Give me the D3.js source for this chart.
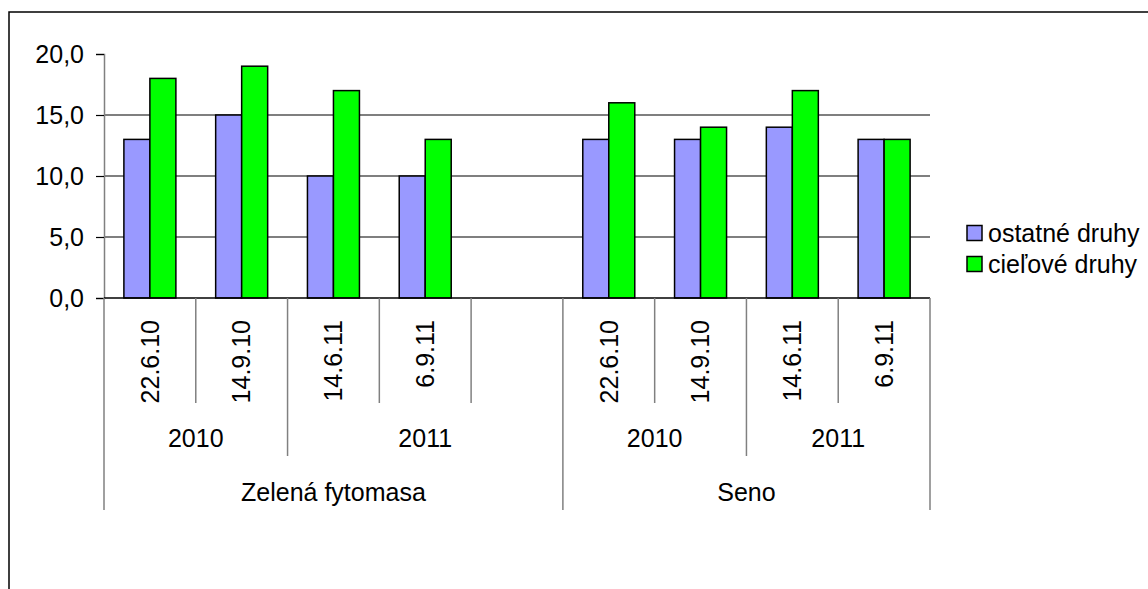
<!DOCTYPE html>
<html>
<head>
<meta charset="utf-8">
<script src="https://cdn.jsdelivr.net/npm/d3@7/dist/d3.min.js"></script>
<style>
  html, body { margin: 0; padding: 0; background: #fff; }
  text { font-family: "Liberation Sans", Arial, sans-serif; fill: #000; }
</style>
</head>
<body>
<svg id="chart" width="1148" height="589"></svg>
<script>
// ---- data ----
const groups = ["Zelená fytomasa", "Zelená fytomasa", "Zelená fytomasa", "Zelená fytomasa", "Seno", "Seno", "Seno", "Seno"];
const years = ["2010", "2010", "2011", "2011", "2010", "2010", "2011", "2011"];
const dates = ["22.6.10", "14.9.10", "14.6.11", "6.9.11", "22.6.10", "14.9.10", "14.6.11", "6.9.11"];
const ostatneDruhy = [13, 15, 10, 10, 13, 13, 14, 13];
const cieloveDruhy = [18, 19, 17, 13, 16, 14, 17, 13];
const seriesNames = ["ostatné druhy", "cieľové druhy"];
const yTicks = [0, 5, 10, 15, 20];

// ---- layout ----
const svg = d3.select("#chart");
const X0 = 104, X1 = 930, Y0 = 298, Ytop = 54;
const colors = ["#9999FF", "#00FF00"];
const fontSize = 25;

// outer frame (extends past the viewport on right/bottom)
svg.append("rect").attr("x", 9).attr("y", 12).attr("width", 1300).attr("height", 700)
  .attr("fill", "none").attr("stroke", "#000").attr("stroke-width", 1.5);

// build slots: data points plus one empty slot at end of the first group
const slots = [];
dates.forEach((d, i) => {
  slots.push({ id: "s" + i, i: i, date: d, year: years[i], group: groups[i] });
  if (i + 1 < dates.length && groups[i + 1] !== groups[i]) {
    slots.push({ id: "blank" + i, i: -1, date: "", year: years[i], group: groups[i] });
  }
});

const x = d3.scaleBand().domain(slots.map(s => s.id)).range([X0, X1]).padding(0);
const xs = d3.scaleBand().domain([0, 1]).range([0, x.bandwidth()]).paddingInner(0).paddingOuter(0.765);
const y = d3.scaleLinear().domain([0, 20]).range([Y0, Ytop]);

// gridlines
svg.append("g").selectAll("line").data(yTicks.filter(t => t > 0 && t < 20)).join("line")
  .attr("x1", X0).attr("x2", X1).attr("y1", d => y(d)).attr("y2", d => y(d))
  .attr("stroke", "#000").attr("stroke-width", 1.2);

// y axis
const yAxis = d3.axisLeft(y).tickValues(yTicks).tickSize(8).tickPadding(12)
  .tickFormat(d => d3.format(".1f")(d).replace(".", ","));
const gy = svg.append("g").attr("transform", `translate(${X0},0)`).call(yAxis);
gy.select(".domain").attr("stroke", "#808080").attr("stroke-width", 1.5);
gy.selectAll(".tick line").attr("stroke", "#000").attr("stroke-width", 1.2);
gy.selectAll(".tick text").attr("font-size", fontSize).attr("font-family", "Liberation Sans, Arial, sans-serif").attr("fill", "#000");

// bars
const barData = [];
slots.forEach(s => {
  if (s.i < 0) return;
  barData.push({ slot: s.id, k: 0, v: ostatneDruhy[s.i] });
  barData.push({ slot: s.id, k: 1, v: cieloveDruhy[s.i] });
});
svg.append("g").selectAll("rect").data(barData).join("rect")
  .attr("x", d => x(d.slot) + xs(d.k))
  .attr("width", xs.bandwidth())
  .attr("y", d => y(d.v))
  .attr("height", d => Y0 - y(d.v))
  .attr("fill", d => colors[d.k])
  .attr("stroke", "#000").attr("stroke-width", 1.5);

// bottom axis line
svg.append("line").attr("x1", X0).attr("x2", X1).attr("y1", Y0).attr("y2", Y0)
  .attr("stroke", "#000").attr("stroke-width", 1.5);

// category tick lines
const tickG = svg.append("g").attr("stroke", "#808080").attr("stroke-width", 1.5);
const L1 = 403, L2 = 456, L3 = 510;
slots.forEach((s, idx) => {
  const xl = x(s.id);
  let bottom = L1;
  if (idx === 0 || slots[idx - 1].group !== s.group) bottom = L3;
  else if (slots[idx - 1].year !== s.year) bottom = L2;
  tickG.append("line").attr("x1", xl).attr("x2", xl).attr("y1", Y0).attr("y2", bottom);
});
tickG.append("line").attr("x1", X1).attr("x2", X1).attr("y1", Y0).attr("y2", L3);

// date labels
svg.append("g").selectAll("text").data(slots.filter(s => s.i >= 0)).join("text")
  .attr("transform", d => `translate(${x(d.id) + x.bandwidth() / 2},320) rotate(-90)`)
  .attr("text-anchor", "end").attr("dy", "0.35em")
  .attr("font-size", fontSize).text(d => d.date);

// year / group labels (span consecutive slots with the same key)
function spans(keyFn) {
  const out = [];
  slots.forEach(s => {
    const k = keyFn(s);
    const last = out[out.length - 1];
    if (last && last.key === k) last.end = x(s.id) + x.bandwidth();
    else out.push({ key: k, start: x(s.id), end: x(s.id) + x.bandwidth(), s: s });
  });
  return out;
}
const yearSpans = spans(s => s.group + "|" + s.year);
svg.append("g").selectAll("text").data(yearSpans).join("text")
  .attr("x", d => (d.start + d.end) / 2).attr("y", 438).attr("dy", "0.35em")
  .attr("text-anchor", "middle").attr("font-size", fontSize).text(d => d.s.year);

const groupSpans = spans(s => s.group);
svg.append("g").selectAll("text").data(groupSpans).join("text")
  .attr("x", d => (d.start + d.end) / 2).attr("y", 492).attr("dy", "0.35em")
  .attr("text-anchor", "middle").attr("font-size", fontSize).text(d => d.s.group);

// legend
const leg = svg.append("g");
const legY = [233, 264];
seriesNames.forEach((n, i) => {
  leg.append("rect").attr("x", 967).attr("y", legY[i] - 7.5).attr("width", 15).attr("height", 15)
    .attr("fill", colors[i]).attr("stroke", "#000").attr("stroke-width", 1.5);
  leg.append("text").attr("x", 988).attr("y", legY[i]).attr("dy", "0.35em")
    .attr("font-size", fontSize).text(n);
});
</script>
</body>
</html>
